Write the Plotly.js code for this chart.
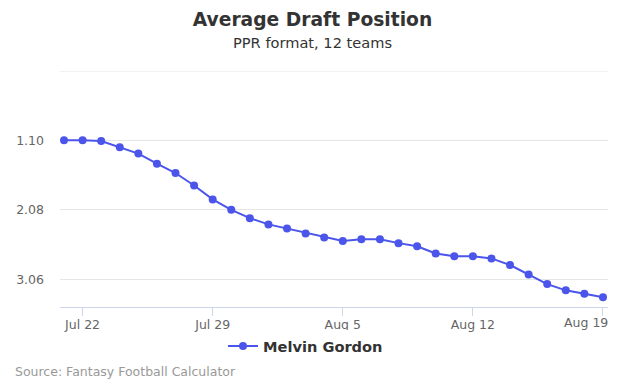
<!DOCTYPE html>
<html>
<head>
<meta charset="utf-8">
<script src="https://cdn.plot.ly/plotly-3.0.1.min.js"></script>
<style>html,body{margin:0;padding:0;background:#fff;}#chart{width:625px;height:391px;}</style>
</head>
<body>
<div id="chart"></div>
<script>
const dates = ["2019-07-21","2019-07-22","2019-07-23","2019-07-24","2019-07-25","2019-07-26","2019-07-27","2019-07-28","2019-07-29","2019-07-30",
  "2019-07-31","2019-08-01","2019-08-02","2019-08-03","2019-08-04","2019-08-05","2019-08-06","2019-08-07","2019-08-08","2019-08-09",
  "2019-08-10","2019-08-11","2019-08-12","2019-08-13","2019-08-14","2019-08-15","2019-08-16","2019-08-17","2019-08-18","2019-08-19"];
const adp = [9.96, 9.96, 10.1, 11.0, 11.9, 13.35, 14.7, 16.5, 18.5, 20.0,
  21.2, 22.1, 22.7, 23.4, 24.0, 24.5, 24.25, 24.25, 24.8, 25.25,
  26.3, 26.7, 26.7, 27.0, 27.95, 29.3, 30.7, 31.6, 32.1, 32.6];
const playerName = "Melvin Gordon";
const yTickVals = [0, 10, 20, 30];
const xTickVals = ["2019-07-22","2019-07-29","2019-08-05","2019-08-12","2019-08-19"];
const xTickText = ["Jul 22","Jul 29","Aug 5","Aug 12","Aug 19"];
const teams = 12;

function pickLabel(p) {
  if (p <= 0) return "";
  const round = Math.floor((p - 1) / teams) + 1;
  const pick = p - (round - 1) * teams;
  return round + "." + String(pick).padStart(2, "0");
}

const plotH = 391 - 71 - 84;
const plotW = 625 - 60 - 17;

const trace = {
  x: dates, y: adp, type: "scatter", mode: "lines+markers", name: playerName,
  line: {color: "#4b55ea", width: 2},
  marker: {color: "#4b55ea", size: 8}
};

// last x label is right-aligned inside the plot, like the reference
const shownXText = xTickText.map((t, i) => i === xTickText.length - 1 ? "" : t);

const layout = {
  width: 625, height: 391,
  margin: {l: 60, r: 17, t: 71, b: 84},
  paper_bgcolor: "#fff", plot_bgcolor: "#fff",
  font: {family: "DejaVu Sans, sans-serif", color: "#666", size: 12.5},
  title: {text: "<b>Average Draft Position</b>", x: 0.5, xanchor: "center", y: 0.949, yanchor: "middle",
    font: {family: "DejaVu Sans, sans-serif", size: 18.7, color: "#333"}},
  xaxis: {
    type: "date",
    range: ["2019-07-20 18:50", "2019-08-19 06:30"],
    tickvals: xTickVals, ticktext: shownXText,
    showgrid: false, zeroline: false,
    showline: true, linecolor: "#ccd6eb", linewidth: 1,
    ticks: "outside", ticklen: 8, tickcolor: "#ccd6eb",
    ticklabelstandoff: -2,
    tickfont: {size: 12.5, color: "#666"}
  },
  yaxis: {
    range: [34, 0],
    tickvals: yTickVals, ticktext: yTickVals.map(pickLabel),
    showgrid: true, gridcolor: "#e6e6e6", zeroline: false,
    showline: false, ticks: "", ticklabelstandoff: 15,
    tickfont: {size: 12.5, color: "#666"}
  },
  shapes: [
    {type: "line", xref: "paper", yref: "y", x0: 0, x1: 1, y0: yTickVals[0], y1: yTickVals[0],
     line: {color: "#e6e6e6", width: 1}, layer: "below"}
  ],
  showlegend: true,
  legend: {orientation: "h", x: (305.5 - 60) / plotW, xanchor: "center", y: -(346 - 307) / plotH, yanchor: "middle",
    font: {size: 14.6, color: "#333", family: "DejaVu Sans, sans-serif", weight: "bold"}},
  annotations: [
    {text: "PPR format, 12 teams", xref: "paper", yref: "paper", x: (312.5 - 60) / plotW, xanchor: "center",
     y: 1 + (71 - 42) / plotH, yanchor: "middle", showarrow: false,
     font: {size: 14.6, color: "#333", family: "DejaVu Sans, sans-serif"}},
    {text: xTickText[xTickText.length - 1], xref: "paper", yref: "paper", x: 1, xanchor: "right",
     y: -(322 - 307) / plotH, yanchor: "middle", showarrow: false, xshift: 2,
     font: {size: 12.5, color: "#666", family: "DejaVu Sans, sans-serif"}},
    {text: "Source: Fantasy Football Calculator", xref: "paper", yref: "paper", x: -47 / plotW, xanchor: "left",
     y: -(371 - 307) / plotH, yanchor: "middle", showarrow: false,
     font: {size: 12.5, color: "#999", family: "DejaVu Sans, sans-serif"}}
  ]
};

Plotly.newPlot("chart", [trace], layout, {displayModeBar: false, staticPlot: true});
</script>
</body>
</html>
